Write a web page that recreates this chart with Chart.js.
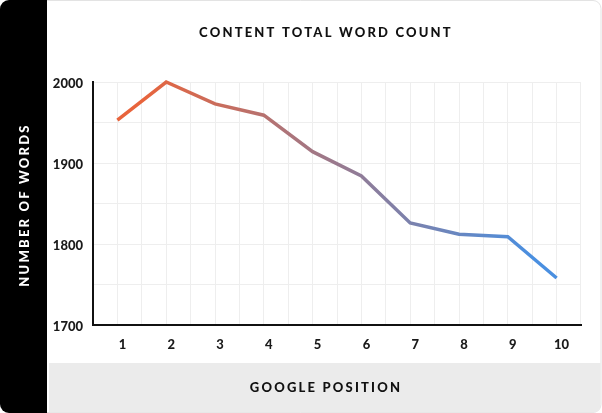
<!DOCTYPE html>
<html>
<head>
<meta charset="utf-8">
<script src="https://cdn.jsdelivr.net/npm/chart.js@4.4.1/dist/chart.umd.min.js"></script>
<style>
  html, body { margin: 0; padding: 0; background: #ffffff; }
  #wrap { width: 602px; height: 413px; }
</style>
</head>
<body>
<div id="wrap"><canvas id="myChart" width="602" height="413"></canvas></div>
<script>
const positions = ['1', '2', '3', '4', '5', '6', '7', '8', '9', '10'];
const wordCounts = [1953, 2000, 1973, 1959, 1914, 1884, 1826, 1812, 1809, 1758];
const yTickLabels = [1700, 1800, 1900, 2000];

const chartTitle = 'CONTENT TOTAL WORD COUNT';
const yTitle = 'NUMBER OF WORDS';
const xTitle = 'GOOGLE POSITION';

const FONT = 'Lato, "Open Sans", sans-serif';

// card, black side band, grey bottom band and the spaced-out titles
const frame = {
  id: 'frame',
  beforeDraw: (chart) => {
    const { ctx, width, height } = chart;
    ctx.save();

    ctx.fillStyle = '#ffffff';
    ctx.strokeStyle = '#e3e3e3';
    ctx.lineWidth = 1;
    ctx.beginPath();
    ctx.roundRect(0.5, 0.5, width - 1.5, height - 1, 8);
    ctx.fill();
    ctx.stroke();

    ctx.fillStyle = '#ebebeb';
    ctx.beginPath();
    ctx.roundRect(49, 363, width - 50.5, height - 363.5, [0, 0, 7, 0]);
    ctx.fill();

    ctx.fillStyle = '#000000';
    ctx.beginPath();
    ctx.roundRect(0, 0, 47, height, [9, 0, 0, 9]);
    ctx.fill();

    ctx.font = '900 13px ' + FONT;
    ctx.letterSpacing = '2.2px';
    ctx.textAlign = 'center';
    ctx.textBaseline = 'middle';

    ctx.fillStyle = '#111111';
    ctx.fillText(chartTitle, 326, 33);
    ctx.fillText(xTitle, 326, 388);

    ctx.translate(25, 205);
    ctx.rotate(-Math.PI / 2);
    ctx.fillStyle = '#ffffff';
    ctx.fillText(yTitle, 0, 0);

    ctx.restore();
  }
};

function lineGradient(context) {
  const { ctx, chartArea } = context.chart;
  if (!chartArea) {
    return '#e8643c';
  }
  const g = ctx.createLinearGradient(chartArea.left, 0, chartArea.right, 0);
  g.addColorStop(0, '#e8643c');
  g.addColorStop(0.1, '#e8643c');
  g.addColorStop(0.9, '#4a8fe0');
  g.addColorStop(1, '#4a8fe0');
  return g;
}

const tickFont = { family: FONT, size: 13, weight: '900' };

const config = {
  type: 'line',
  data: {
    labels: positions,
    datasets: [{
      data: wordCounts,
      borderColor: lineGradient,
      borderWidth: 3.5,
      pointRadius: 0,
      pointHoverRadius: 0,
      tension: 0,
      fill: false,
      clip: false,
      xAxisID: 'x',
    }]
  },
  options: {
    responsive: false,
    animation: false,
    devicePixelRatio: 1,
    layout: {
      padding: { top: 82, right: 21, bottom: 0, left: 0 }
    },
    scales: {
      x: {
        type: 'category',
        offset: true,
        grid: {
          offset: false,
          color: '#eeeeee',
          lineWidth: 1,
          drawTicks: false,
        },
        border: { color: '#111111', width: 2 },
        ticks: {
          font: tickFont,
          color: '#1a1a1a',
          padding: 12,
          labelOffset: 5,
          maxRotation: 0,
        },
        afterFit: (scale) => { scale.height = 88; }
      },
      x2: {
        type: 'category',
        labels: positions,
        position: 'top',
        offset: true,
        grid: {
          offset: true,
          color: '#eeeeee',
          lineWidth: 1,
          drawTicks: false,
        },
        border: { display: false },
        ticks: { display: false },
        afterFit: (scale) => { scale.height = 0; }
      },
      y: {
        min: 1700,
        max: 2000,
        grid: {
          color: '#eeeeee',
          lineWidth: 1,
          drawTicks: false,
        },
        border: { color: '#111111', width: 2 },
        ticks: {
          stepSize: 50,
          font: tickFont,
          color: '#1a1a1a',
          padding: 10,
          labelOffset: 2,
          callback: (v) => yTickLabels.includes(v) ? String(v) : '',
        },
        afterFit: (scale) => { scale.width = 93; }
      }
    },
    plugins: {
      legend: { display: false },
      title: { display: false },
      tooltip: { enabled: false },
    }
  },
  plugins: [frame]
};

const myChart = new Chart(document.getElementById('myChart'), config);
</script>
</body>
</html>
